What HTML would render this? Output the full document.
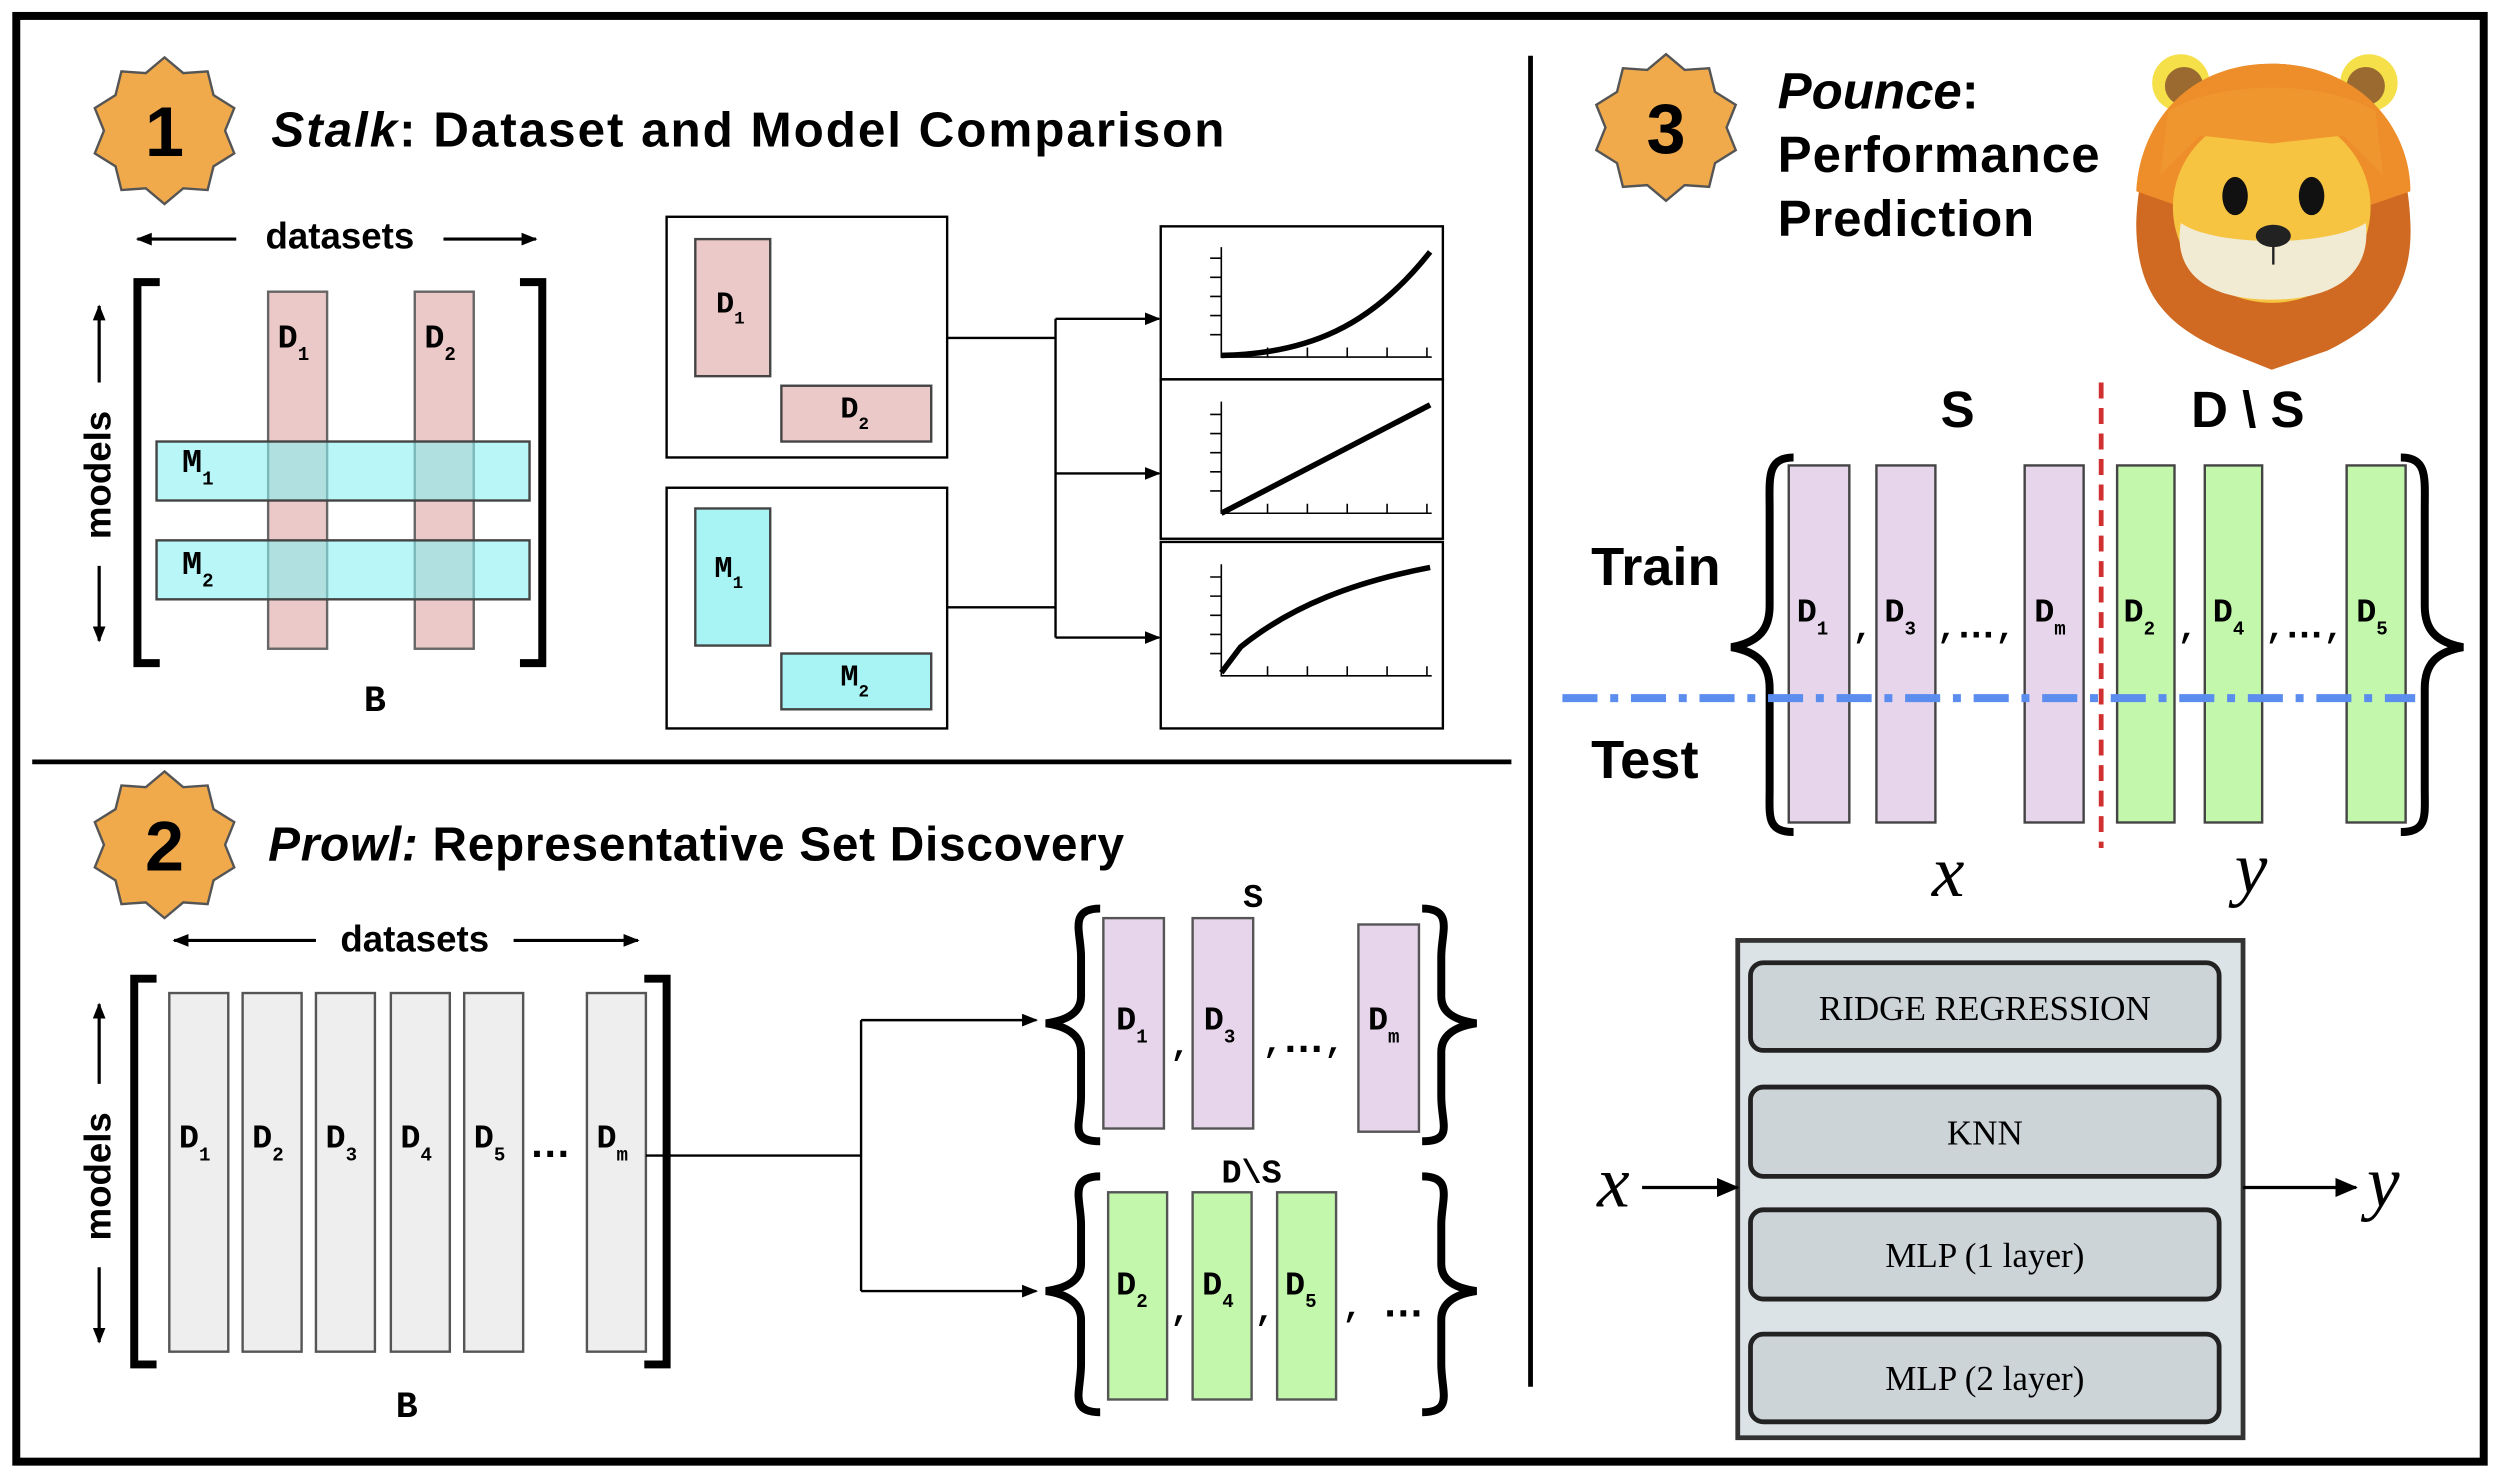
<!DOCTYPE html>
<html><head><meta charset="utf-8"><style>html,body{margin:0;padding:0;background:#fff}svg{display:block}</style></head>
<body>
<svg width="2500" height="1476" viewBox="0 0 1568 926" xmlns="http://www.w3.org/2000/svg" font-family="Liberation Sans, sans-serif">
<defs>
<polygon id="star" points="0,-46 11.74,-36.14 27.04,-37.21 30.74,-22.34 43.75,-14.21 38,0 43.75,14.21 30.74,22.34 27.04,37.21 11.74,36.14 0,46 -11.74,36.14 -27.04,37.21 -30.74,22.34 -43.75,14.21 -38,0 -43.75,-14.21 -30.74,-22.34 -27.04,-37.21 -11.74,-36.14" fill="#F0AA4C" stroke="#555" stroke-width="1.5"/>
<marker id="ah" markerWidth="10" markerHeight="8" refX="9" refY="4" orient="auto" markerUnits="userSpaceOnUse"><path d="M0,0 L10,4 L0,8 Z" fill="#000"/></marker>
<marker id="ahb" markerWidth="14" markerHeight="12" refX="13" refY="6" orient="auto" markerUnits="userSpaceOnUse"><path d="M0,0 L14,6 L0,12 Z" fill="#000"/></marker>
</defs>
<rect x="0" y="0" width="1568" height="926" fill="#fff"/>
<rect x="10" y="10" width="1548" height="907" fill="none" stroke="#000" stroke-width="5"/>
<line x1="960" y1="35" x2="960" y2="870" stroke="#000" stroke-width="3"/>
<line x1="20" y1="478" x2="948" y2="478" stroke="#000" stroke-width="3"/>

<!-- Section 1 -->
<use href="#star" x="103" y="82"/>
<text x="103" y="98" font-size="44" font-weight="bold" text-anchor="middle">1</text>
<text x="170" y="92" font-size="31" font-weight="bold" textLength="598" lengthAdjust="spacing"><tspan font-style="italic">Stalk</tspan>: Dataset and Model Comparison</text>

<line x1="148" y1="150" x2="86" y2="150" stroke="#000" stroke-width="2" marker-end="url(#ah)"/>
<line x1="278" y1="150" x2="336" y2="150" stroke="#000" stroke-width="2" marker-end="url(#ah)"/>
<text x="213" y="156" font-size="23" font-weight="bold" text-anchor="middle">datasets</text>
<path d="M100,177 H86 V416 H100" fill="none" stroke="#000" stroke-width="5"/>
<path d="M326,177 H340 V416 H326" fill="none" stroke="#000" stroke-width="5"/>
<line x1="62" y1="240" x2="62" y2="192" stroke="#000" stroke-width="2" marker-end="url(#ah)"/>
<line x1="62" y1="355" x2="62" y2="402" stroke="#000" stroke-width="2" marker-end="url(#ah)"/>
<text transform="translate(69,298) rotate(-90)" font-size="23" font-weight="bold" text-anchor="middle">models</text>
<rect x="168" y="183" width="37" height="224" fill="#EBC9C8" stroke="#666" stroke-width="1.5"/>
<rect x="260" y="183" width="37" height="224" fill="#EBC9C8" stroke="#666" stroke-width="1.5"/>
<rect x="98" y="277" width="234" height="37" fill="#8AF0F2" fill-opacity="0.6" stroke="#444" stroke-width="1.5"/>
<rect x="98" y="339" width="234" height="37" fill="#8AF0F2" fill-opacity="0.6" stroke="#444" stroke-width="1.5"/>
<g font-family="Liberation Mono, monospace" font-weight="bold">
<text x="174" y="218" font-size="21">D<tspan font-size="12" dy="8">1</tspan></text>
<text x="266" y="218" font-size="21">D<tspan font-size="12" dy="8">2</tspan></text>
<text x="114" y="296" font-size="21">M<tspan font-size="12" dy="8">1</tspan></text>
<text x="114" y="360" font-size="21">M<tspan font-size="12" dy="8">2</tspan></text>
<text x="235" y="446" font-size="23" text-anchor="middle">B</text>
</g>

<rect x="418" y="136" width="176" height="151" fill="none" stroke="#000" stroke-width="1.5"/>
<rect x="436" y="150" width="47" height="86" fill="#EBC9C8" stroke="#444" stroke-width="1.5"/>
<rect x="490" y="242" width="94" height="35" fill="#EBC9C8" stroke="#444" stroke-width="1.5"/>
<rect x="418" y="306" width="176" height="151" fill="none" stroke="#000" stroke-width="1.5"/>
<rect x="436" y="319" width="47" height="86" fill="#A8F4F4" stroke="#444" stroke-width="1.5"/>
<rect x="490" y="410" width="94" height="35" fill="#A8F4F4" stroke="#444" stroke-width="1.5"/>
<g font-family="Liberation Mono, monospace" font-weight="bold">
<text x="449" y="196" font-size="19">D<tspan font-size="11" dy="7">1</tspan></text>
<text x="527" y="262" font-size="19">D<tspan font-size="11" dy="7">2</tspan></text>
<text x="448" y="362" font-size="19">M<tspan font-size="11" dy="7">1</tspan></text>
<text x="527" y="430" font-size="19">M<tspan font-size="11" dy="7">2</tspan></text>
</g>
<g stroke="#000" stroke-width="1.5" fill="none">
<line x1="594" y1="212" x2="662" y2="212"/>
<line x1="594" y1="381" x2="662" y2="381"/>
<line x1="662" y1="200" x2="662" y2="400"/>
<line x1="662" y1="200" x2="727" y2="200" marker-end="url(#ah)"/>
<line x1="662" y1="297" x2="727" y2="297" marker-end="url(#ah)"/>
<line x1="662" y1="400" x2="727" y2="400" marker-end="url(#ah)"/>
<rect x="728" y="142" width="177" height="96"/>
<rect x="728" y="238" width="177" height="100"/>
<rect x="728" y="340" width="177" height="117"/>
</g>
<g stroke="#000" stroke-width="1" fill="none">
<path d="M766,155 V224 H898 M759,162h7M759,174h7M759,186h7M759,198h7M759,210h7 M795,218v6M820,218v6M845,218v6M870,218v6M895,218v6"/>
<path d="M766,252 V322 H898 M759,260h7M759,272h7M759,284h7M759,296h7M759,308h7 M795,316v6M820,316v6M845,316v6M870,316v6M895,316v6"/>
<path d="M766,354 V424 H898 M759,362h7M759,374h7M759,386h7M759,398h7M759,410h7 M795,418v6M820,418v6M845,418v6M870,418v6M895,418v6"/>
</g>
<g stroke="#000" stroke-width="3.5" fill="none">
<path d="M766,223 C820,222 860,205 897,158"/>
<path d="M766,322 L897,254"/>
<path d="M766,422 L778,406 C810,380 850,365 897,356"/>
</g>

<!-- Section 2 -->
<use href="#star" x="103" y="530"/>
<text x="103" y="546" font-size="44" font-weight="bold" text-anchor="middle">2</text>
<text x="168" y="540" font-size="30" font-weight="bold" textLength="537" lengthAdjust="spacing"><tspan font-style="italic">Prowl:</tspan> Representative Set Discovery</text>
<line x1="198" y1="590" x2="109" y2="590" stroke="#000" stroke-width="2" marker-end="url(#ah)"/>
<line x1="322" y1="590" x2="400" y2="590" stroke="#000" stroke-width="2" marker-end="url(#ah)"/>
<text x="260" y="597" font-size="23" font-weight="bold" text-anchor="middle">datasets</text>
<path d="M98,614 H84 V856 H98" fill="none" stroke="#000" stroke-width="5"/>
<path d="M404,614 H418 V856 H404" fill="none" stroke="#000" stroke-width="5"/>
<line x1="62" y1="680" x2="62" y2="630" stroke="#000" stroke-width="2" marker-end="url(#ah)"/>
<line x1="62" y1="795" x2="62" y2="842" stroke="#000" stroke-width="2" marker-end="url(#ah)"/>
<text transform="translate(69,738) rotate(-90)" font-size="23" font-weight="bold" text-anchor="middle">models</text>
<g fill="#EEEEEE" stroke="#555" stroke-width="1.5">
<rect x="106" y="623" width="37" height="225"/><rect x="152" y="623" width="37" height="225"/>
<rect x="198" y="623" width="37" height="225"/><rect x="245" y="623" width="37" height="225"/>
<rect x="291" y="623" width="37" height="225"/><rect x="368" y="623" width="37" height="225"/>
</g>
<g font-family="Liberation Mono, monospace" font-weight="bold" font-size="21">
<text x="112" y="720">D<tspan font-size="12" dy="8">1</tspan></text>
<text x="158" y="720">D<tspan font-size="12" dy="8">2</tspan></text>
<text x="204" y="720">D<tspan font-size="12" dy="8">3</tspan></text>
<text x="251" y="720">D<tspan font-size="12" dy="8">4</tspan></text>
<text x="297" y="720">D<tspan font-size="12" dy="8">5</tspan></text>
<text x="332" y="726" font-family="Liberation Sans, sans-serif" font-size="26">…</text>
<text x="374" y="720">D<tspan font-size="12" dy="8">m</tspan></text>
<text x="255" y="889" font-size="23" text-anchor="middle">B</text>
<text x="786" y="569" font-size="21" text-anchor="middle">S</text>
<text x="785" y="742" font-size="21" text-anchor="middle">D\S</text>
</g>
<g stroke="#000" stroke-width="1.5" fill="none">
<line x1="405" y1="725" x2="540" y2="725"/>
<line x1="540" y1="640" x2="540" y2="810"/>
<line x1="540" y1="640" x2="650" y2="640" marker-end="url(#ah)"/>
<line x1="540" y1="810" x2="650" y2="810" marker-end="url(#ah)"/>
</g>
<g stroke="#000" stroke-width="5" fill="none">
<path d="M690,570 C670,570 678,585 678,600 V625 C678,635 670,640 656,642 C670,644 678,650 678,660 V688 C678,705 670,716 690,716"/>
<path d="M892,570 C912,570 904,585 904,600 V625 C904,635 912,640 926,642 C912,644 904,650 904,660 V688 C904,705 912,716 892,716"/>
<path d="M690,738 C670,738 678,753 678,768 V793 C678,803 670,808 656,810 C670,812 678,818 678,828 V856 C678,873 670,886 690,886"/>
<path d="M892,738 C912,738 904,753 904,768 V793 C904,803 912,808 926,810 C912,812 904,818 904,828 V856 C904,873 912,886 892,886"/>
</g>
<g fill="#E6D5EB" stroke="#555" stroke-width="1.5">
<rect x="692" y="576" width="38" height="132"/><rect x="748" y="576" width="38" height="132"/><rect x="852" y="580" width="38" height="130"/>
</g>
<g fill="#C2F7AC" stroke="#555" stroke-width="1.5">
<rect x="695" y="748" width="37" height="130"/><rect x="748" y="748" width="37" height="130"/><rect x="801" y="748" width="37" height="130"/>
</g>
<g font-family="Liberation Mono, monospace" font-weight="bold" font-size="21">
<text x="700" y="646">D<tspan font-size="12" dy="8">1</tspan></text><text x="734" y="662">,</text>
<text x="755" y="646">D<tspan font-size="12" dy="8">3</tspan></text><text x="792" y="660">,<tspan font-family="Liberation Sans, sans-serif" font-size="26">…</tspan>,</text>
<text x="858" y="646">D<tspan font-size="12" dy="8">m</tspan></text>
<text x="700" y="812">D<tspan font-size="12" dy="8">2</tspan></text><text x="734" y="828">,</text>
<text x="754" y="812">D<tspan font-size="12" dy="8">4</tspan></text><text x="787" y="828">,</text>
<text x="806" y="812">D<tspan font-size="12" dy="8">5</tspan></text><text x="842" y="826">, <tspan font-family="Liberation Sans, sans-serif" font-size="26">…</tspan></text>
</g>

<!-- Section 3 -->
<use href="#star" x="1045" y="80"/>
<text x="1045" y="96" font-size="44" font-weight="bold" text-anchor="middle">3</text>
<text x="1115" y="68" font-size="32" font-weight="bold"><tspan font-style="italic">Pounce</tspan>:</text>
<text x="1115" y="108" font-size="32" font-weight="bold" textLength="202" lengthAdjust="spacing">Performance</text>
<text x="1115" y="148" font-size="32" font-weight="bold" textLength="161" lengthAdjust="spacing">Prediction</text>
<!-- lion -->
<g>
<circle cx="1368" cy="52" r="18" fill="#F5E04A"/><circle cx="1370" cy="54" r="12" fill="#9A6A30"/>
<circle cx="1486" cy="52" r="18" fill="#F5E04A"/><circle cx="1484" cy="54" r="12" fill="#9A6A30"/>
<path d="M1425,40 C1480,40 1510,80 1512,140 C1514,185 1490,205 1460,220 L1425,232 L1395,220 C1360,205 1340,185 1340,140 C1342,80 1370,40 1425,40 Z" fill="#D06A22"/>
<path d="M1425,40 C1480,40 1512,80 1512,120 L1425,150 L1340,120 C1342,80 1370,40 1425,40 Z" fill="#EE8E2A"/>
<ellipse cx="1425" cy="130" rx="62" ry="60" fill="#F6C440"/>
<path d="M1368,140 C1390,155 1460,155 1484,140 C1488,175 1460,188 1425,188 C1390,188 1362,175 1368,140 Z" fill="#F2EBD3"/>
<path d="M1360,70 C1390,50 1460,50 1490,70 L1495,110 L1470,85 L1425,90 L1380,85 L1355,110 Z" fill="#F0962E"/>
<ellipse cx="1402" cy="123" rx="8" ry="12" fill="#111"/><ellipse cx="1450" cy="123" rx="8" ry="12" fill="#111"/>
<ellipse cx="1426" cy="148" rx="11" ry="7" fill="#222"/>
<line x1="1426" y1="153" x2="1426" y2="166" stroke="#222" stroke-width="1.5"/>
</g>

<text x="1228" y="268" font-size="32" font-weight="bold" text-anchor="middle">S</text>
<text x="1410" y="268" font-size="32" font-weight="bold" text-anchor="middle">D \ S</text>
<text x="998" y="367" font-size="34" font-weight="bold">Train</text>
<text x="998" y="488" font-size="34" font-weight="bold">Test</text>
<g fill="#E6D5EB" stroke="#444" stroke-width="1.5">
<rect x="1122" y="292" width="38" height="224"/><rect x="1177" y="292" width="37" height="224"/><rect x="1270" y="292" width="37" height="224"/>
</g>
<g fill="#C2F7AC" stroke="#444" stroke-width="1.5">
<rect x="1328" y="292" width="36" height="224"/><rect x="1383" y="292" width="36" height="224"/><rect x="1472" y="292" width="37" height="224"/>
</g>
<g stroke="#000" stroke-width="5" fill="none">
<path d="M1125,287 C1108,287 1110,300 1110,320 V380 C1110,395 1103,403 1086,406 C1103,409 1110,417 1110,432 V495 C1110,512 1108,522 1125,522"/>
<path d="M1506,287 C1523,287 1521,300 1521,320 V380 C1521,395 1528,403 1545,406 C1528,409 1521,417 1521,432 V495 C1521,512 1523,522 1506,522"/>
</g>
<line x1="1318" y1="240" x2="1318" y2="532" stroke="#D03030" stroke-width="3" stroke-dasharray="10,6"/>
<line x1="980" y1="438" x2="1515" y2="438" stroke="#5B8DEF" stroke-width="5" stroke-dasharray="22,8,5,8"/>
<g font-family="Liberation Mono, monospace" font-weight="bold" font-size="21">
<text x="1127" y="390">D<tspan font-size="12" dy="8">1</tspan></text><text x="1162" y="400">,</text>
<text x="1182" y="390">D<tspan font-size="12" dy="8">3</tspan></text><text x="1215" y="400">,<tspan font-family="Liberation Sans, sans-serif" font-size="24">…</tspan>,</text>
<text x="1276" y="390">D<tspan font-size="12" dy="8">m</tspan></text>
<text x="1332" y="390">D<tspan font-size="12" dy="8">2</tspan></text><text x="1366" y="400">,</text>
<text x="1388" y="390">D<tspan font-size="12" dy="8">4</tspan></text><text x="1421" y="400">,<tspan font-family="Liberation Sans, sans-serif" font-size="24">…</tspan>,</text>
<text x="1478" y="390">D<tspan font-size="12" dy="8">5</tspan></text>
</g>
<text x="1222" y="562" font-size="46" font-style="italic" font-family="Liberation Serif, serif" text-anchor="middle">x</text>
<text x="1412" y="560" font-size="46" font-style="italic" font-family="Liberation Serif, serif" text-anchor="middle">y</text>

<rect x="1090" y="590" width="317" height="312" fill="#DCE3E6" stroke="#333" stroke-width="3"/>
<g fill="#CDD4D8" stroke="#222" stroke-width="3">
<rect x="1098" y="604" width="294" height="55" rx="8"/>
<rect x="1098" y="682" width="294" height="56" rx="8"/>
<rect x="1098" y="759" width="294" height="56" rx="8"/>
<rect x="1098" y="837" width="294" height="55" rx="8"/>
</g>
<g font-family="Liberation Serif, serif" font-size="22" text-anchor="middle">
<text x="1245" y="640">RIDGE REGRESSION</text>
<text x="1245" y="718">KNN</text>
<text x="1245" y="795">MLP (1 layer)</text>
<text x="1245" y="872">MLP (2 layer)</text>
</g>
<text x="1012" y="757" font-size="46" font-style="italic" font-family="Liberation Serif, serif" text-anchor="middle">x</text>
<line x1="1030" y1="745" x2="1090" y2="745" stroke="#000" stroke-width="2" marker-end="url(#ahb)"/>
<line x1="1407" y1="745" x2="1478" y2="745" stroke="#000" stroke-width="2" marker-end="url(#ahb)"/>
<text x="1495" y="757" font-size="46" font-style="italic" font-family="Liberation Serif, serif" text-anchor="middle">y</text>
</svg>
</body></html>
